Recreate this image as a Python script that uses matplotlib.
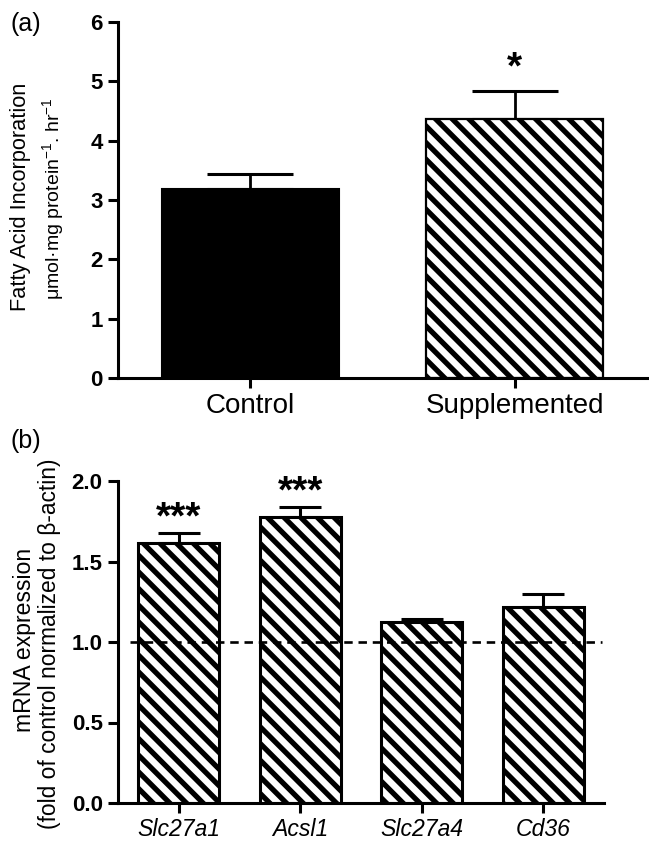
import numpy as np
import matplotlib
matplotlib.use('Agg')
import matplotlib.pyplot as plt

plt.rcParams['font.family'] = ['Liberation Sans', 'DejaVu Sans']
plt.rcParams['mathtext.fontset'] = 'custom'
plt.rcParams['mathtext.rm'] = 'Liberation Sans'
plt.rcParams['mathtext.it'] = 'Liberation Sans:italic'
plt.rcParams['hatch.linewidth'] = 3.8
plt.rcParams['axes.linewidth'] = 2.2

# panel (a) data
grupos = ['Control', 'Supplemented']
incorporacion = [3.19, 4.37]
error_a = [0.25, 0.47]

# panel (b) data
genes = ['Slc27a1', 'Acsl1', 'Slc27a4', 'Cd36']
expresion = [1.615, 1.777, 1.124, 1.217]
error_b = [0.065, 0.063, 0.016, 0.083]
estrellas = ['***', '***', '', '']

fig = plt.figure(figsize=(6.49, 8.42), dpi=100)

# ---- (a)
ax1 = fig.add_axes([118/649, 464/842, 529/649, 356/842])
x = np.arange(len(grupos))
ax1.bar(x[0], incorporacion[0], width=0.67, color='black', edgecolor='black', linewidth=1.5, zorder=2)
ax1.bar(x[1], incorporacion[1], width=0.67, color='white', edgecolor='black', hatch='\\\\', linewidth=1.6, zorder=2)
ax1.errorbar(x, incorporacion, yerr=[[0, 0], error_a], fmt='none', ecolor='black',
             elinewidth=2, capsize=31, capthick=2.2, zorder=1)
ax1.text(x[1], incorporacion[1] + error_a[1] + 0.44, '*', ha='center', va='center_baseline',
         fontsize=28, fontweight='bold')
ax1.set_xlim(-0.5, 1.5)
ax1.set_ylim(0, 6)
ax1.set_xticks(x)
ax1.set_xticklabels(grupos, fontsize=20)
ax1.set_yticks(range(7))
ax1.tick_params(axis='y', labelsize=16, width=2.2, length=7.5, direction='out')
ax1.tick_params(axis='x', width=2.2, length=7.5, direction='out', pad=3)
for lbl in ax1.get_yticklabels():
    lbl.set_fontweight('bold')
ax1.spines['top'].set_visible(False)
ax1.spines['right'].set_visible(False)
fig.text(21/649, 1 - 197/842, 'Fatty Acid Incorporation', rotation=90, ha='center', va='center', fontsize=15.7)
fig.text(53/649, 1 - 199/842, r'μmol·mg protein$^{-1}$. hr$^{-1}$', rotation=90, ha='center', va='center', fontsize=14)
fig.text(10/649, 1 - 24/842, '(a)', fontsize=18, ha='left', va='center')

# ---- (b)
ax2 = fig.add_axes([118/649, 39/842, 486/649, 322/842])
xb = np.arange(len(genes))
ax2.bar(xb, expresion, width=0.67, color='white', edgecolor='black', hatch='\\\\', linewidth=2.2, zorder=2)
ax2.errorbar(xb, expresion, yerr=[np.zeros(len(genes)), error_b], fmt='none', ecolor='black',
             elinewidth=2.2, capsize=15, capthick=2.2, zorder=1)
for i, s in enumerate(estrellas):
    if s:
        ax2.text(xb[i], expresion[i] + error_b[i] + 0.115, s, ha='center', va='center_baseline',
                 fontsize=28, fontweight='bold')
ax2.axhline(1.0, xmin=0.025, xmax=0.995, color='black', linestyle=(0, (3.2, 2.2)), linewidth=1.9, zorder=3)
ax2.set_xlim(-0.5, 3.5)
ax2.set_ylim(0, 2.0)
ax2.set_xticks(xb)
ax2.set_xticklabels(genes, fontsize=16.6, style='italic')
ax2.set_yticks([0.0, 0.5, 1.0, 1.5, 2.0])
ax2.set_yticklabels(['0.0', '0.5', '1.0', '1.5', '2.0'])
ax2.tick_params(axis='y', labelsize=16, width=2.2, length=7.5, direction='out')
ax2.tick_params(axis='x', width=2.2, length=7.5, direction='out', pad=3)
for lbl in ax2.get_yticklabels():
    lbl.set_fontweight('bold')
ax2.spines['top'].set_visible(False)
ax2.spines['right'].set_visible(False)
fig.text(24/649, 1 - 640/842, 'mRNA expression', rotation=90, ha='center', va='center', fontsize=16.6)
fig.text(50/649, 1 - 644/842, '(fold of control normalized to β-actin)', rotation=90, ha='center', va='center', fontsize=16.4)
fig.text(10/649, 1 - 441/842, '(b)', fontsize=18, ha='left', va='center')

fig.savefig('out.png', dpi=100)
